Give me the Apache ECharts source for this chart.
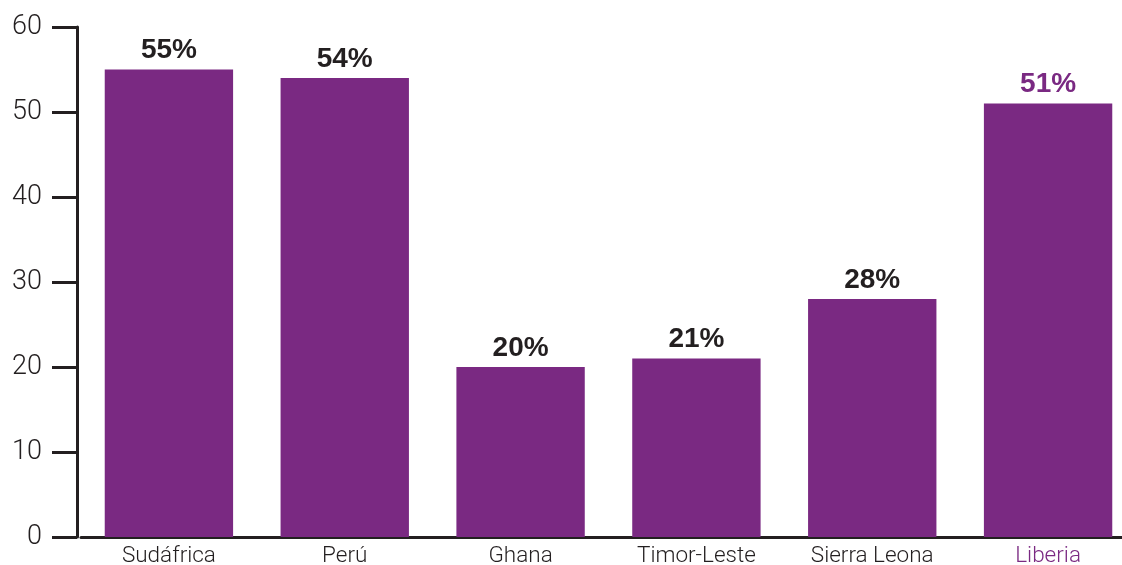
<!DOCTYPE html>
<html>
<head>
<meta charset="utf-8">
<script src="https://cdn.jsdelivr.net/npm/echarts@6/dist/echarts.min.js"></script>
<style>html,body{margin:0;padding:0;background:#fff}#c{width:1122px;height:565px}</style>
</head>
<body>
<div id="c"></div>
<script>
const categories = ["Sudáfrica", "Perú", "Ghana", "Timor-Leste", "Sierra Leona", "Liberia"];
const values = [55, 54, 20, 21, 28, 51];
const highlight = ["Liberia"];

const purple = "#7a2982";
const dark = "#231f20";
const font = "Roboto, 'Liberation Sans', Arial, sans-serif";

const chart = echarts.init(document.getElementById('c'), null, {renderer: 'canvas'});
chart.setOption({
  animation: false,
  grid: {left: 81, right: -14, top: 27, bottom: 28, containLabel: false, outerBoundsMode: 'none'},
  xAxis: {
    type: 'category',
    data: categories,
    boundaryGap: true,
    axisLine: {show: true, lineStyle: {color: dark, width: 3}},
    axisTick: {show: false},
    axisLabel: {
      margin: 8,
      fontFamily: font,
      fontSize: 22.5,
      fontWeight: 300,
      color: function (v) { return highlight.indexOf(v) >= 0 ? purple : dark; }
    }
  },
  yAxis: {
    type: 'value',
    min: 0, max: 60, interval: 10,
    offset: 4,
    splitLine: {show: false},
    axisLine: {show: true, lineStyle: {color: dark, width: 3}},
    axisTick: {show: true, length: 25, lineStyle: {color: dark, width: 3}},
    axisLabel: {margin: 35, fontFamily: font, fontSize: 27, fontWeight: 300, color: dark}
  },
  series: [{
    type: 'bar',
    data: values.map((v, i) => ({
      value: v,
      label: {color: highlight.indexOf(categories[i]) >= 0 ? purple : dark}
    })),
    barCategoryGap: '27%',
    itemStyle: {color: purple},
    label: {
      show: true,
      position: 'top',
      distance: 5,
      formatter: '{c}%',
      fontFamily: "'Liberation Sans', Arial, sans-serif",
      fontWeight: 'bold',
      fontSize: 28
    }
  }]
});
</script>
</body>
</html>
